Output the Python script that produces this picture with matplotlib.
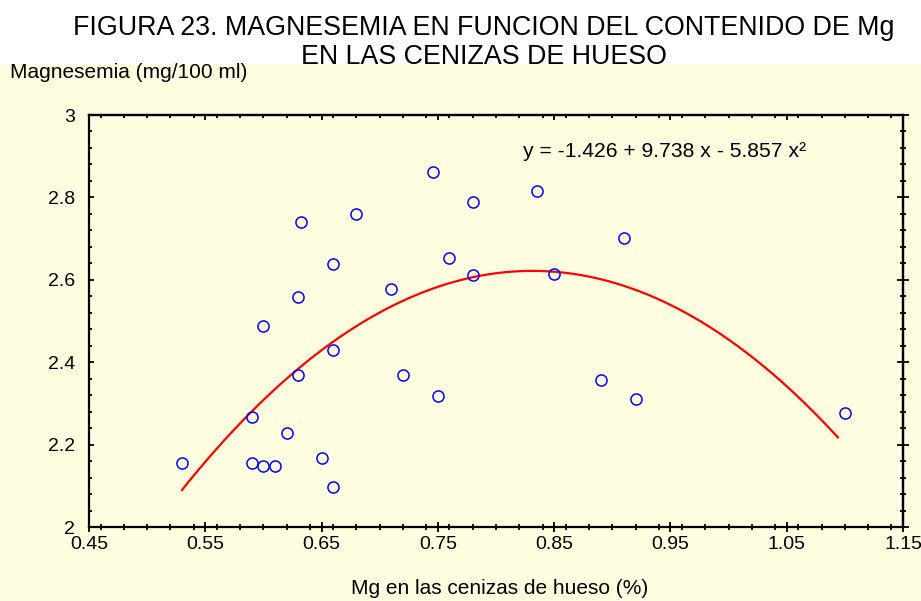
import matplotlib
matplotlib.use("Agg")
import matplotlib.pyplot as plt
import numpy as np
from matplotlib.patches import Rectangle
from matplotlib.ticker import MultipleLocator

plt.rcParams['font.family'] = ['Liberation Sans', 'DejaVu Sans']

# contenido de Mg en cenizas de hueso (%) y magnesemia (mg/100 ml)
mg_ceniza = [0.53, 0.59, 0.59, 0.60, 0.61, 0.60, 0.62, 0.63, 0.63, 0.632,
             0.65, 0.66, 0.66, 0.66, 0.68, 0.71, 0.72, 0.746, 0.75, 0.76,
             0.78, 0.78, 0.835, 0.85, 0.89, 0.91, 0.92, 1.10]
magnesemia = [2.156, 2.268, 2.156, 2.149, 2.149, 2.488, 2.227, 2.369, 2.559, 2.740,
              2.167, 2.638, 2.429, 2.098, 2.760, 2.578, 2.369, 2.862, 2.317, 2.654,
              2.790, 2.612, 2.816, 2.614, 2.357, 2.701, 2.311, 2.277]

# ajuste cuadratico
coef = [-1.426, 9.738, -5.857]
ecuacion = "y = -1.426 + 9.738 x - 5.857 x\u00b2"

x_ticks = [0.45, 0.55, 0.65, 0.75, 0.85, 0.95, 1.05, 1.15]
y_ticks = [2, 2.2, 2.4, 2.6, 2.8, 3]

fondo = '#FEFDE0'
W, H = 921, 601

fig = plt.figure(figsize=(W / 100, H / 100), dpi=100)
fig.patch.set_facecolor('white')
# banda amarilla detras del grafico
fig.add_artist(Rectangle((0, 0), 1, 1 - 63.5 / H, transform=fig.transFigure,
                         facecolor=fondo, edgecolor='none', zorder=-0.5))

fig.text(484 / W, 1 - 35 / H, "FIGURA 23. MAGNESEMIA EN FUNCION DEL CONTENIDO DE Mg",
         ha='center', va='baseline', fontsize=19.3, zorder=-1)
fig.text(484 / W, 1 - 64.5 / H, "EN LAS CENIZAS DE HUESO",
         ha='center', va='baseline', fontsize=19.3, zorder=-1)

ax = fig.add_axes([89 / W, 1 - 527 / H, (903 - 89) / W, (527 - 115) / H])
ax.set_facecolor('none')

x = np.array(mg_ceniza)
y = np.array(magnesemia)
ax.plot(x, y, 'o', mfc='none', mec='#0000FF', ms=8, mew=1.1, zorder=3)

xs = np.linspace(x.min(), 1.094, 80)
ax.plot(xs, coef[0] + coef[1] * xs + coef[2] * xs ** 2, color='#FF0000', lw=1.6, zorder=2)

ax.text(523 / W, 1 - 157 / H, ecuacion, transform=fig.transFigure,
        ha='left', va='baseline', fontsize=15.2)

ax.set_xlim(0.45, 1.15)
ax.set_ylim(2, 3)
ax.set_xticks(x_ticks)
ax.set_xticklabels(['%.2f' % v for v in x_ticks])
ax.set_yticks(y_ticks)
ax.set_yticklabels(['%g' % v for v in y_ticks])
ax.xaxis.set_minor_locator(MultipleLocator(0.02))
ax.yaxis.set_minor_locator(MultipleLocator(0.04))

for s in ax.spines.values():
    s.set_linewidth(1.6)

ax.tick_params(axis='x', which='major', direction='inout', length=7.5, width=1.3,
               labelsize=14, pad=3)
ax.tick_params(axis='x', which='minor', direction='inout', length=5, width=1.3)
ax.tick_params(axis='y', which='major', direction='in', length=3.5, width=1.3,
               labelsize=14, pad=10)
ax.tick_params(axis='y', which='minor', direction='in', length=2.5, width=1.3)

# ejes secundarios: marcas arriba y a la derecha
top = ax.secondary_xaxis('top')
top.set_xticks(x_ticks)
top.xaxis.set_minor_locator(MultipleLocator(0.02))
top.tick_params(which='both', direction='in', labeltop=False, width=1.3)
top.tick_params(which='major', length=3.5)
top.tick_params(which='minor', length=2.5)
top.spines['top'].set_linewidth(1.6)

right = ax.secondary_yaxis('right')
right.set_yticks(y_ticks)
right.yaxis.set_minor_locator(MultipleLocator(0.04))
right.tick_params(which='both', direction='inout', labelright=False, width=1.3)
right.tick_params(which='major', length=8)
right.tick_params(which='minor', length=5)
right.spines['right'].set_linewidth(1.6)

fig.text(10 / W, 1 - 78 / H, "Magnesemia (mg/100 ml)", ha='left', va='baseline', fontsize=15)
fig.text(500 / W, 1 - 594 / H, "Mg en las cenizas de hueso (%)", ha='center', va='baseline',
         fontsize=15)

fig.savefig('out.png', dpi=100, facecolor=fig.get_facecolor())
